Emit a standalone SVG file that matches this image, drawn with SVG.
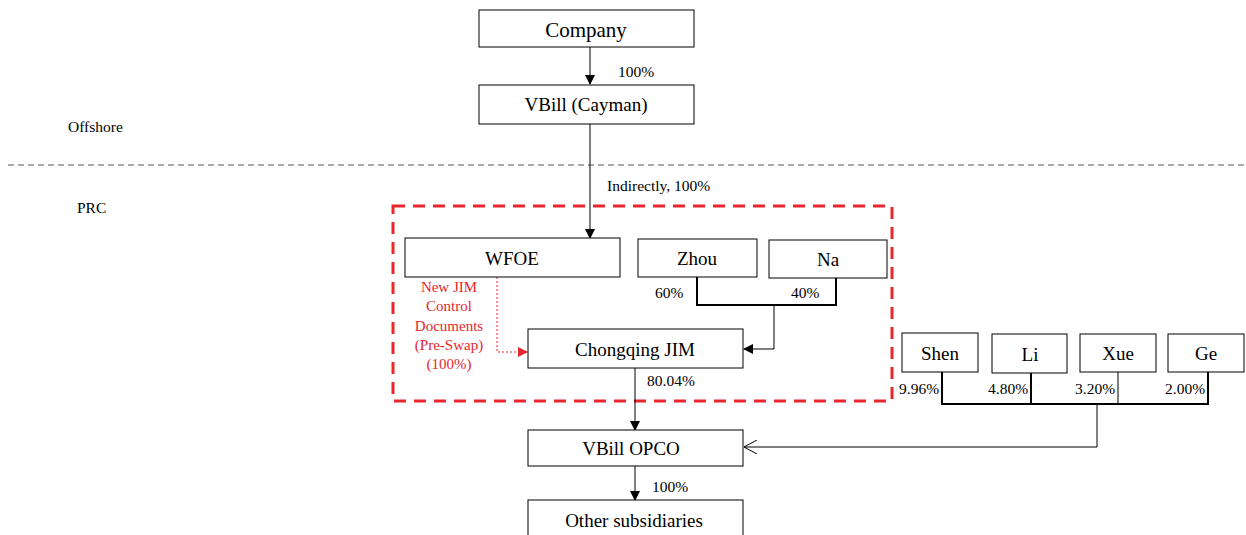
<svg xmlns="http://www.w3.org/2000/svg" width="1246" height="535" viewBox="0 0 1246 535">
<style>
.box{fill:#fff;stroke:#000;stroke-width:1}
.t{font-family:"Liberation Serif",serif;fill:#000;text-anchor:middle}
.n{font-size:19px}
.l{font-family:"Liberation Serif",serif;font-size:15.5px;fill:#000}
.c{fill:none;stroke:#000;stroke-width:1}
.cb{fill:none;stroke:#000;stroke-width:2}
.red{font-family:"Liberation Serif",serif;font-size:15px;fill:#e8262b;text-anchor:middle}
</style>
<defs>
<marker id="a" markerWidth="10" markerHeight="10" refX="9" refY="5" orient="auto" markerUnits="userSpaceOnUse"><path d="M0,0 L10,5 L0,10 Z" fill="#000"/></marker>
<marker id="ar" markerWidth="10" markerHeight="10" refX="9" refY="5" orient="auto" markerUnits="userSpaceOnUse"><path d="M0,0 L10,5 L0,10 Z" fill="#e8262b"/></marker>
<marker id="ao" markerWidth="14" markerHeight="14" refX="13" refY="7" orient="auto" markerUnits="userSpaceOnUse"><path d="M0,0 L13,7 L0,14" fill="none" stroke="#000" stroke-width="1"/></marker>
</defs>
<rect width="1246" height="535" fill="#fff"/>
<text class="l" x="68" y="132">Offshore</text>
<text class="l" x="77" y="213">PRC</text>
<line x1="8" y1="165" x2="1246" y2="165" stroke="#555" stroke-width="1" stroke-dasharray="6,4"/>
<rect x="393" y="206" width="499" height="195" fill="none" stroke="#e8262b" stroke-width="3" stroke-dasharray="12,8"/>
<g id="connectors">
<line class="c" x1="590" y1="47" x2="590" y2="84" marker-end="url(#a)"/>
<text class="l" x="618" y="77">100%</text>
<line class="c" x1="590" y1="124" x2="590" y2="238" marker-end="url(#a)"/>
<text class="l" x="607" y="191">Indirectly, 100%</text>
<polyline class="cb" points="697,277 697,305 836,305 836,278"/>
<polyline class="c" points="774,305 774,349 744,349" marker-end="url(#a)"/>
<text class="l" x="655" y="298">60%</text>
<text class="l" x="791" y="298">40%</text>
<polyline fill="none" stroke="#e8262b" stroke-width="1" stroke-dasharray="2,2" points="497,277 497,352 527,352" marker-end="url(#ar)"/>
<text class="red" x="449" y="292">New JIM</text>
<text class="red" x="449" y="311">Control</text>
<text class="red" x="449" y="331">Documents</text>
<text class="red" x="449" y="350">(Pre-Swap)</text>
<text class="red" x="449" y="369">(100%)</text>
<line class="c" x1="635" y1="368" x2="635" y2="430" marker-end="url(#a)"/>
<text class="l" x="647" y="386">80.04%</text>
<polyline class="cb" points="942,372 942,404 1208,404 1208,372"/>
<line class="cb" x1="1031" y1="373" x2="1031" y2="404"/>
<line class="c" x1="1118" y1="372" x2="1118" y2="404"/>
<polyline class="c" points="1097,404 1097,447 744,447" marker-end="url(#ao)"/>
<text class="l" x="899" y="394">9.96%</text>
<text class="l" x="988" y="394">4.80%</text>
<text class="l" x="1075" y="394">3.20%</text>
<text class="l" x="1165" y="394">2.00%</text>
<line class="c" x1="635" y1="466" x2="635" y2="500" marker-end="url(#a)"/>
<text class="l" x="652" y="492">100%</text>
</g>
<g id="company"><rect class="box" x="479" y="10" width="215" height="37"/><text class="t" x="586" y="37" font-size="21">Company</text></g>
<g id="cayman"><rect class="box" x="479" y="85" width="215" height="39"/><text class="t n" x="586" y="111">VBill (Cayman)</text></g>
<g id="wfoe"><rect class="box" x="405" y="238" width="215" height="39"/><text class="t n" x="512" y="265">WFOE</text></g>
<g id="zhou"><rect class="box" x="638" y="239" width="119" height="38"/><text class="t n" x="697" y="265">Zhou</text></g>
<g id="na"><rect class="box" x="769" y="240" width="118" height="38"/><text class="t n" x="828" y="266">Na</text></g>
<g id="jim"><rect class="box" x="528" y="329" width="215" height="39"/><text class="t n" x="635" y="356">Chongqing JIM</text></g>
<g id="opco"><rect class="box" x="528" y="430" width="215" height="36"/><text class="t n" x="631" y="455">VBill OPCO</text></g>
<g id="other"><rect class="box" x="528" y="500" width="215" height="40"/><text class="t n" x="634" y="527">Other subsidiaries</text></g>
<g id="shen"><rect class="box" x="902" y="333" width="76" height="39"/><text class="t n" x="940" y="360">Shen</text></g>
<g id="li"><rect class="box" x="992" y="334" width="75" height="39"/><text class="t n" x="1030" y="361">Li</text></g>
<g id="xue"><rect class="box" x="1080" y="334" width="76" height="38"/><text class="t n" x="1118" y="360">Xue</text></g>
<g id="ge"><rect class="box" x="1168" y="334" width="76" height="38"/><text class="t n" x="1206" y="360">Ge</text></g>
</svg>
